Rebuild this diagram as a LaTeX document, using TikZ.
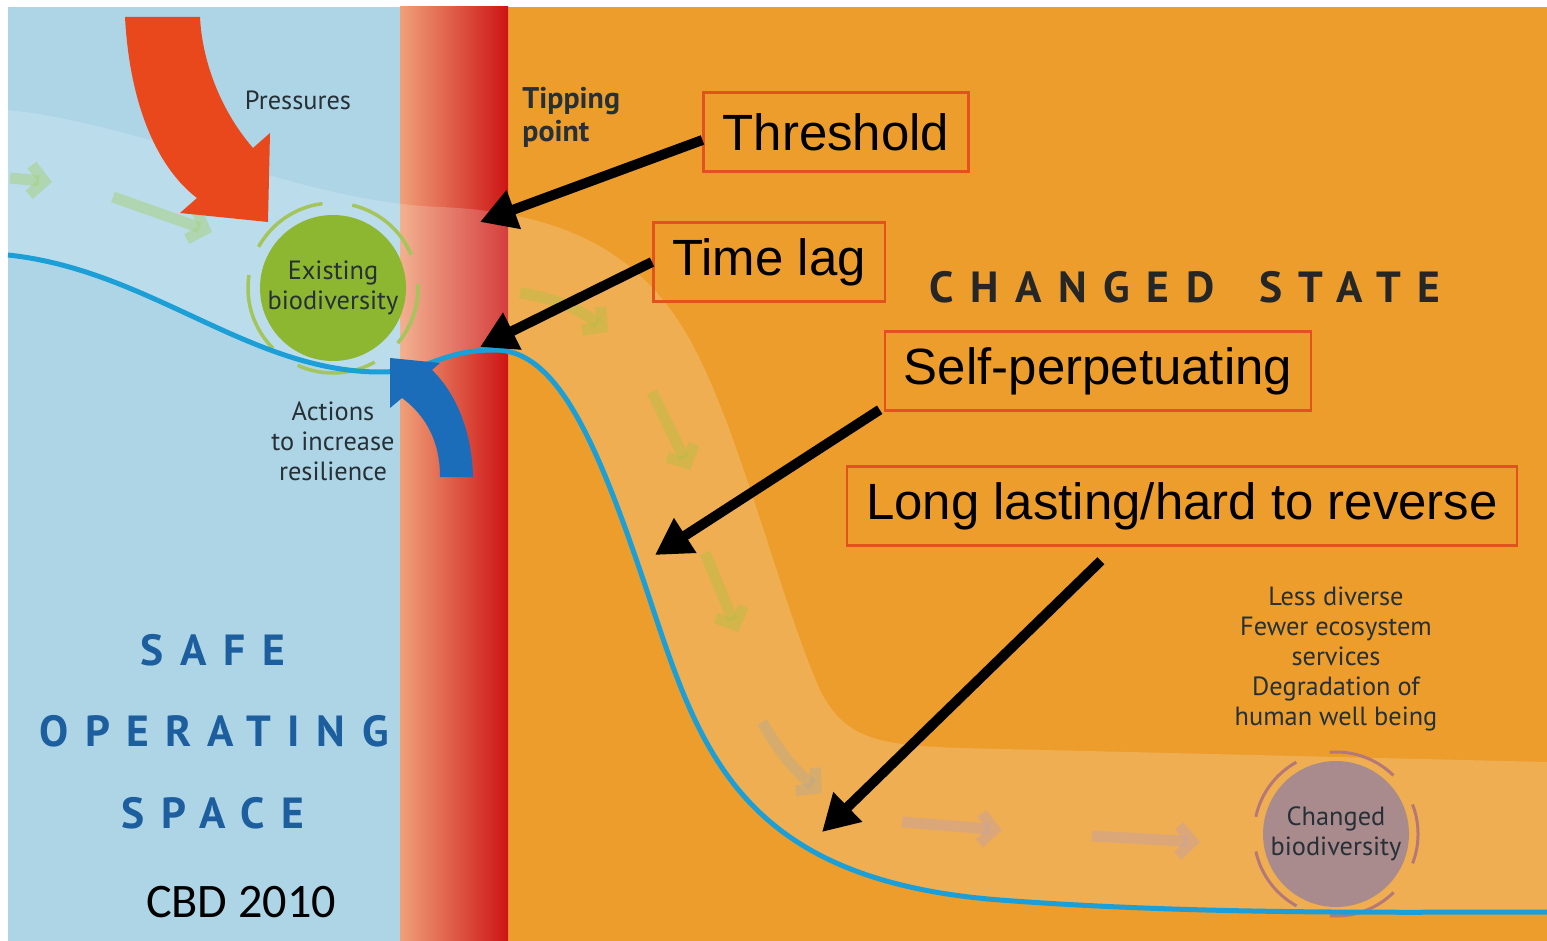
\documentclass[tikz,border=0pt]{standalone}
\usepackage{fontspec}
\usetikzlibrary{arrows.meta}
\newfontfamily\boxfont{Liberation Sans}
\newfontfamily\infofont{PT Sans}
\newfontfamily\spacedfont[LetterSpace=38]{PT Sans}
\newfontfamily\notefont{Carlito}
\definecolor{safeblue}{HTML}{ADD5E6}
\definecolor{changedorange}{HTML}{EC9D2B}
\definecolor{tipleft}{RGB}{240,160,120}
\definecolor{tipmid}{RGB}{226,92,62}
\definecolor{tipright}{RGB}{205,20,20}
\definecolor{linecyan}{HTML}{1C9FD6}
\definecolor{pressred}{HTML}{E9481C}
\definecolor{actionblue}{HTML}{1B6DB9}
\definecolor{biogreen}{HTML}{8DB631}
\definecolor{biomauve}{HTML}{A98B8E}
\definecolor{ringmauve}{HTML}{B47878}
\definecolor{boxred}{HTML}{E2521E}
\definecolor{darktext}{HTML}{263036}
\definecolor{spaceblue}{HTML}{1C5E9E}
\definecolor{flowgreen}{HTML}{A6D27A}
\definecolor{flowolive}{HTML}{B9BC48}
\definecolor{flowgrey}{HTML}{BCA98C}
\definecolor{flowmauve}{HTML}{C9A2A2}

\begin{document}
\begin{tikzpicture}
  [x=0.1mm,y=-0.1mm,
   labelbox/.style={draw=boxred,line width=0.25mm,inner xsep=1.9mm,inner ysep=0pt,
     minimum height=7.9mm,font=\boxfont\fontsize{14.5}{17}\selectfont},
   infotext/.style={text=darktext,align=center,font=\infofont\fontsize{7.5}{8.5}\selectfont},
   spaced/.style={font=\spacedfont\bfseries\fontsize{12.4}{14}\selectfont},
   biocircle/.style={circle,minimum size=14.6mm,inner sep=0pt,infotext},
   callout/.style={line width=1mm,-{Triangle[length=3.6mm,width=3.9mm]}},
   flow/.style={line width=1.1mm,opacity=.5,-{Straight Barb[length=1.4mm,width=3mm]}}]
  \useasboundingbox (0,0) rectangle (1547,941);

  % panels
  \fill[white] (0,0) rectangle (1547,941);
  \fill[safeblue] (8,7) rectangle (400,941);
  \fill[changedorange] (508,7) rectangle (1547,941);
  \shade[left color=tipleft,middle color=tipmid,right color=tipright] (400,7) rectangle (508,941);

  % pale stream
  \fill[white,opacity=.18] (8,110) .. controls (150,125) and (300,202) .. (440,207)
    .. controls (560,212) and (640,250) .. (690,340)
    .. controls (740,430) and (780,600) .. (820,690)
    .. controls (845,740) and (880,745) .. (960,748)
    -- (1547,762) -- (1547,912)
    .. controls (1400,912) and (1200,915) .. (1000,900)
    .. controls (740,880) and (700,750) .. (650,600)
    .. controls (600,450) and (560,350) .. (495,350)
    .. controls (440,350) and (430,372) .. (380,372)
    .. controls (250,372) and (150,270) .. (8,255) -- cycle;

  \draw[flow,flowgreen] (10,178) -- (52,182);
  \draw[flow,flowgreen] (113,197) -- (212,232);
  \draw[flow,flowolive] (520,293) to[bend left=15] (608,332);
  \draw[flow,flowolive] (652,392) -- (690,470);
  \draw[flow,flowolive] (705,553) -- (738,632);
  \draw[flow,flowgrey] (762,722) to[bend right=10] (822,793);
  \draw[flow,flowmauve] (902,822) -- (1002,830);
  \draw[flow,flowmauve] (1092,836) -- (1200,842);

  % biodiversity states
  \node[biocircle,fill=biogreen] (exist) at (333,288) {Existing\\biodiversity};
  \draw[biogreen!80!white,line width=.35mm,dash pattern=on 8mm off 3mm,dash phase=2mm]
    (exist.center) circle (85);
  \node[biocircle,fill=biomauve] (changed) at (1336,834) {Changed\\biodiversity};
  \draw[ringmauve,line width=.3mm,dash pattern=on 7mm off 3.5mm,dash phase=4mm]
    (changed.center) circle (82);

  \draw[linecyan,line width=.5mm] (8,255) .. controls (150,270) and (250,372) .. (380,372)
    .. controls (430,372) and (440,350) .. (495,350)
    .. controls (560,350) and (600,450) .. (650,600)
    .. controls (700,750) and (740,880) .. (1000,900)
    .. controls (1200,915) and (1400,912) .. (1547,912);

  % pressures and actions
  \fill[pressred] (125,17) .. controls (130,110) and (160,170) .. (197,198) -- (180,213)
    -- (268,222) -- (270,133) -- (253,148) .. controls (220,110) and (202,60) .. (200,17) -- cycle;
  \fill[actionblue] (440,477) .. controls (440,440) and (425,415) .. (402,398) -- (390,408)
    -- (390,358) -- (440,363) -- (432,370) .. controls (455,392) and (472,430) .. (473,477) -- cycle;

  \node[infotext] (press) at (298,100) {Pressures};
  \node[infotext,font=\infofont\bfseries\fontsize{8.5}{9.4}\selectfont,align=left,anchor=west]
    (tipping) at (510,117) {Tipping\\point};
  \node[infotext] (actions) at (333,441) {Actions\\to increase\\resilience};
  \node[infotext] (loss) at (1336,659) {Less diverse\\Fewer ecosystem\\services\\Degradation of\\human well being};

  \node[spaced,text=spaceblue] (safe) at (213,650) {SAFE};
  \node[spaced,text=spaceblue] (operating) at (214,731) {OPERATING};
  \node[spaced,text=spaceblue] (space) at (213,813) {SPACE};
  \node[spaced,text=black!85] (state) at (1185,287) {CHANGED\hspace{.4em} STATE};
  \node[font=\notefont\fontsize{13.7}{16}\selectfont] (cbd) at (241,902) {CBD 2010};

  % callouts
  \node[labelbox] (thresh) at (836,132) {Threshold};
  \node[labelbox] (lag) at (769,262) {Time lag};
  \node[labelbox] (selfp) at (1098,371) {Self-perpetuating};
  \node[labelbox] (longl) at (1182,506) {Long lasting/hard to reverse};

  \coordinate (tipthresh) at (480,222);
  \coordinate (tiplag) at (480,347);
  \coordinate (tipself) at (655,555);
  \coordinate (tiplong) at (822,832);

  \draw[callout] ([shift={(0,8)}]thresh.west) -- (tipthresh);
  \draw[callout] (lag.west) -- (tiplag);
  \draw[callout] ([shift={(-4,-2)}]selfp.south west) -- (tipself);
  \draw[callout] ([shift={(255,14)}]longl.south west) -- (tiplong);

\end{tikzpicture}
\end{document}
